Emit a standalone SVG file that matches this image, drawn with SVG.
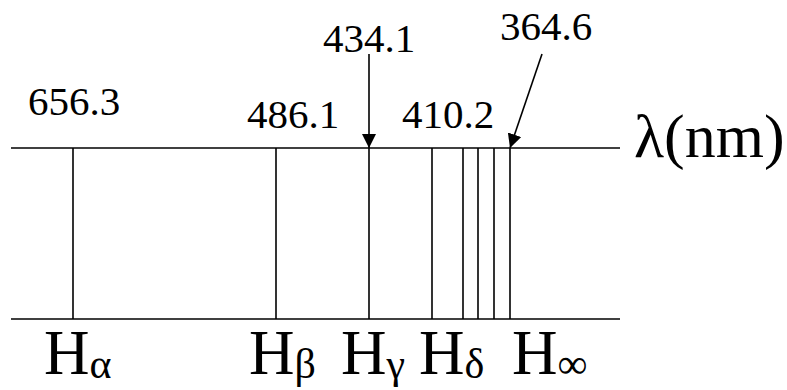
<svg xmlns="http://www.w3.org/2000/svg" width="787" height="390" viewBox="0 0 787 390">
<style>
.ln{stroke:#000;stroke-width:1.6;fill:none}
.num{font-family:"Liberation Serif","Times New Roman",serif;font-size:41px;fill:#000}
.big{font-family:"Liberation Serif","Times New Roman",serif;font-size:63px;fill:#000}
.sub{font-family:"Liberation Serif","Times New Roman",serif;font-size:42px;fill:#000}
.lam{font-family:"Liberation Serif","Times New Roman",serif;font-size:62px;fill:#000}
</style>
<defs>
<marker id="ah" markerWidth="14" markerHeight="14" viewBox="0 0 14 14" refX="14" refY="7" orient="auto" markerUnits="userSpaceOnUse">
<path d="M0,0 L14,7 L0,14 Z" fill="#000"/>
</marker>
</defs>
<rect width="787" height="390" fill="#fff"/>
<g id="axes">
<line class="ln" x1="11" y1="148" x2="620" y2="148"/>
<line class="ln" x1="11" y1="319" x2="620" y2="319"/>
</g>
<g id="lines">
<line class="ln" x1="73" y1="148" x2="73" y2="319"/>
<line class="ln" x1="276" y1="148" x2="276" y2="319"/>
<line class="ln" x1="369" y1="148" x2="369" y2="319"/>
<line class="ln" x1="432" y1="148" x2="432" y2="319"/>
<line class="ln" x1="463" y1="148" x2="463" y2="319"/>
<line class="ln" x1="478" y1="148" x2="478" y2="319"/>
<line class="ln" x1="494" y1="148" x2="494" y2="319"/>
<line class="ln" x1="510" y1="148" x2="510" y2="319"/>
</g>
<g id="connectors">
<line class="ln" x1="369" y1="54" x2="369" y2="148" marker-end="url(#ah)"/>
<line class="ln" x1="542" y1="54" x2="510" y2="148" marker-end="url(#ah)"/>
</g>
<g id="labels">
<text class="num" x="28" y="115">656.3</text>
<text class="num" x="247" y="128">486.1</text>
<text class="num" x="323" y="52">434.1</text>
<text class="num" x="402" y="128">410.2</text>
<text class="num" x="500" y="40">364.6</text>
<text class="lam" x="634" y="157">λ(nm)</text>
</g>
<g id="series">
<text class="big" x="44" y="374">H<tspan class="sub" dy="4">α</tspan></text>
<text class="big" x="249" y="374">H<tspan class="sub" dy="4">β</tspan></text>
<text class="big" x="341" y="374">H<tspan class="sub" dy="4">γ</tspan></text>
<text class="big" x="419" y="374">H<tspan class="sub" dy="4">δ</tspan></text>
<text class="big" x="512" y="374">H<tspan class="sub" dy="4">∞</tspan></text>
</g>
</svg>
